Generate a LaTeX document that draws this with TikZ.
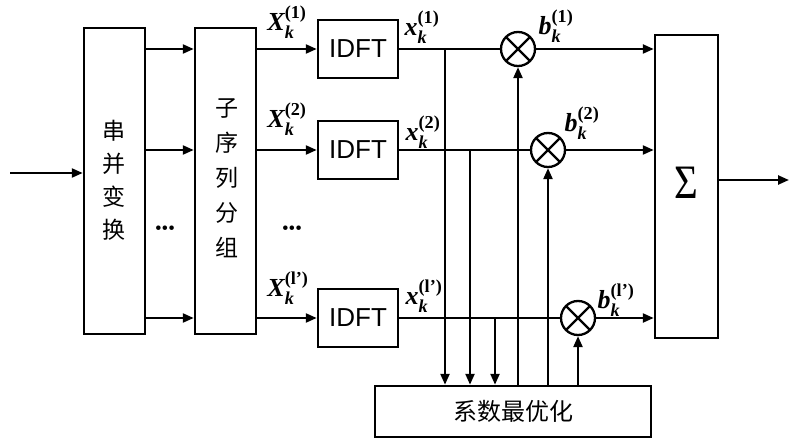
\documentclass[tikz,border=0pt]{standalone}
\usepackage{amsmath}
\usepackage{fontspec}
\setmainfont{Liberation Serif}
\newfontfamily\cjk{Noto Sans CJK SC}
\newfontfamily\arialf{Liberation Sans}
\usetikzlibrary{arrows.meta,calc}
\newcommand{\bl}[3]{$\text{\bfseries\itshape #1}_{\text{\bfseries\itshape #2}}^{\text{\bfseries #3}}$}
\begin{document}
\begin{tikzpicture}[x=1pt,y=-1pt,
  line width=2.3pt,
  arr/.style={-{Triangle[length=11pt,width=9pt]}},
  blk/.style={draw,line width=2.5pt,inner sep=0pt},
  idft/.style={blk,minimum width=80pt,minimum height=58pt,font=\arialf\fontsize{26}{26}\selectfont},
  mul/.style={draw,line width=2.3pt,circle,minimum size=34pt,inner sep=0pt,
    path picture={\draw[line width=2.3pt] (path picture bounding box.north west)--(path picture bounding box.south east)
      (path picture bounding box.north east)--(path picture bounding box.south west);}},
  lab/.style={inner sep=0pt,font=\fontsize{26}{28}\selectfont},
  dots/.style={inner sep=0pt,font=\fontsize{19}{19}\selectfont}
]
\useasboundingbox (0,0) rectangle (790,441);
% main blocks
\node[blk,minimum width=61pt,minimum height=306pt] (sp) at (114.5,181) {};
\node[font=\cjk\fontsize{23}{33}\selectfont,align=center,inner sep=0pt] (sptxt) at (114,180) {串\\并\\变\\换};
\node[blk,minimum width=61pt,minimum height=306pt] (grp) at (225.5,181) {};
\node[font=\cjk\fontsize{23}{35}\selectfont,align=center,inner sep=0pt] (grptxt) at (227,178) {子\\序\\列\\分\\组};
\node[idft] (f1) at (358,49) {IDFT};
\node[idft] (f2) at (358,150) {IDFT};
\node[idft] (f3) at (358,318) {IDFT};
\node[mul] (m1) at (518,49) {};
\node[mul] (m2) at (548,150) {};
\node[mul] (m3) at (578,318) {};
\node[blk,minimum width=63pt,minimum height=303pt] (sum) at (686.5,186.5) {};
\node[inner sep=0pt,font=\fontsize{48}{48}\selectfont,xscale=0.85] (sig) at (686.5,183) {Σ};
\node[blk,minimum width=276pt,minimum height=51pt,font=\cjk\fontsize{24}{24}\selectfont] (opt) at (513,411.5) {系数最优化};
% input / output
\coordinate (in) at (10,173);
\coordinate (out) at (789,180);
\draw[arr] (in) -- (in -| sp.west);
\draw[arr] (sum.east |- out) -- (out);
% S/P -> grouping
\foreach \r in {1,2,3}{
  \draw[arr] (f\r -| sp.east) -- (f\r -| grp.west);
  \draw[arr] (f\r -| grp.east) -- (f\r.west);
  \draw (f\r.east) -- (m\r.west);
  \draw[arr] (m\r.east) -- (m\r.east -| sum.west);
  \draw[arr] (m\r |- opt.north) -- (m\r.south);
}
% taps to optimizer
\coordinate (v1) at (445,49);
\coordinate (v2) at (470,150);
\coordinate (v3) at (495,318);
\foreach \v in {v1,v2,v3}{\draw[arr] (\v) -- (\v |- opt.north);}
% dots
\node[dots] (d1) at (165,230) {\textbullet\textbullet\textbullet};
\node[dots] (d2) at (292,230) {\textbullet\textbullet\textbullet};
% labels
\node[lab] (X1) at (287,22) {\bl{X}{k}{(1)}};
\node[lab] (X2) at (287,119) {\bl{X}{k}{(2)}};
\node[lab] (X3) at (288,288) {\bl{X}{k}{(l')}};
\node[lab] (x1) at (422,27) {\bl{x}{k}{(1)}};
\node[lab] (x2) at (423,132) {\bl{x}{k}{(2)}};
\node[lab] (x3) at (424,296) {\bl{x}{k}{(l')}};
\node[lab] (b1) at (556,26) {\bl{b}{k}{(1)}};
\node[lab] (b2) at (582,123) {\bl{b}{k}{(2)}};
\node[lab] (b3) at (616,300) {\bl{b}{k}{(l')}};
\end{tikzpicture}
\end{document}
